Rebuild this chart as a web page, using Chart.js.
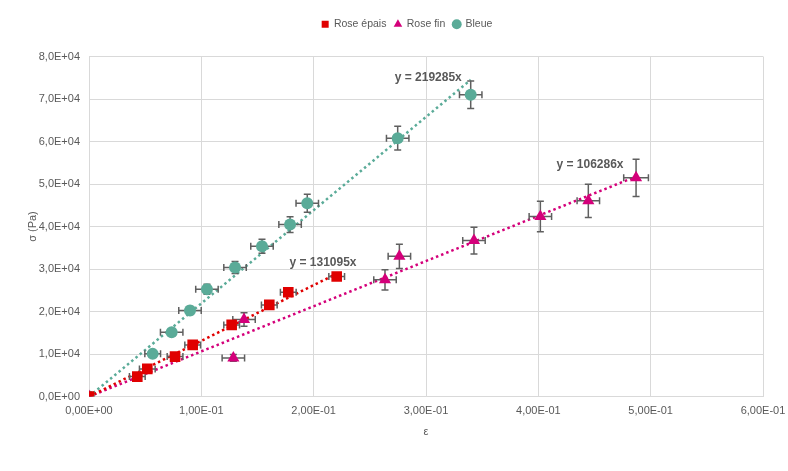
<!DOCTYPE html>
<html>
<head>
<meta charset="utf-8">
<script src="https://cdn.jsdelivr.net/npm/chart.js@4"></script>
<style>
  html, body { margin: 0; padding: 0; background: #fff; }
  #wrap { width: 788px; height: 471px; }
</style>
</head>
<body>
<div id="wrap"><canvas id="chart" width="788" height="471"></canvas></div>
<script>
'use strict';

/* ── DATA ── */
const epaisX = [0, 0.043, 0.0519, 0.0766, 0.0923, 0.127, 0.1605, 0.1774, 0.2205];
const epaisY = [0, 4710, 6510, 9410, 12160, 16870, 21570, 24540, 28240];
const epaisXErr = [0, 0.007, 0.007, 0.007, 0.007, 0.007, 0.007, 0.007, 0.007];
const epaisYErr = [0, 150, 200, 300, 380, 520, 670, 760, 880];

const finX = [0, 0.1285, 0.138, 0.2635, 0.2763, 0.3427, 0.4018, 0.4445, 0.487];
const finY = [0, 9100, 18120, 27460, 33010, 36700, 42350, 46040, 51450];
const finXErr = [0, 0.01, 0.01, 0.01, 0.01, 0.01, 0.01, 0.01, 0.011];
const finYErr = [0, 800, 1600, 2400, 2850, 3150, 3600, 3900, 4400];

const bleueX = [0, 0.0567, 0.0736, 0.0899, 0.105, 0.130, 0.154, 0.179, 0.1943, 0.2748, 0.3398];
const bleueY = [0, 10050, 15130, 20240, 25250, 30350, 35370, 40470, 45480, 60780, 70990];
const bleueXErr = [0, 0.007, 0.01, 0.01, 0.01, 0.01, 0.01, 0.01, 0.01, 0.01, 0.01];
const bleueYErr = [0, 450, 700, 950, 1150, 1400, 1650, 1850, 2100, 2800, 3250];

const seriesNames = ['Rose épais', 'Rose fin', 'Bleue'];
const slopes = [131095, 106286, 219285];

const xTicks = [0, 0.1, 0.2, 0.3, 0.4, 0.5, 0.6];
const yTicks = [0, 10000, 20000, 30000, 40000, 50000, 60000, 70000, 80000];

/* ── STYLE ── */
const RED = '#e00000';
const PINK = '#d4007a';
const GREEN = '#5aab98';
const TEXT = '#595959';
const GRID = '#d9d9d9';
const FONT = "'Liberation Sans', Arial, sans-serif";

function pts(xs, ys) {
  return xs.map((x, i) => ({ x: x, y: ys[i] }));
}

// trend line through the origin up to the largest x
function trend(xs, slope) {
  const maxX = Math.max(...xs);
  return [{ x: 0, y: 0 }, { x: maxX, y: slope * maxX }];
}

// 8.0e+4 -> 8,0E+04
function sci(v, digits) {
  const s = v.toExponential(digits);
  const [m, e] = s.split('e');
  const sign = e[0] === '-' ? '-' : '+';
  const n = Math.abs(parseInt(e, 10));
  return m.replace('.', ',') + 'E' + sign + (n < 10 ? '0' + n : n);
}

const errSets = [
  { ds: 0, xErr: epaisXErr, yErr: epaisYErr },
  { ds: 1, xErr: finXErr, yErr: finYErr },
  { ds: 2, xErr: bleueXErr, yErr: bleueYErr }
];

/* ── ERROR BARS plugin ── */
const errorBars = {
  id: 'errorBars',
  beforeDatasetDraw(chart, args) {
    const set = errSets.find(s => s.ds === args.index);
    if (!set) return;
    const ctx = chart.ctx;
    const xs = chart.scales.x, ys = chart.scales.y;
    const data = chart.data.datasets[args.index].data;
    const cap = 3.5;
    ctx.save();
    ctx.strokeStyle = '#5f5f5f';
    ctx.lineWidth = 1.5;
    data.forEach((p, i) => {
      const xe = set.xErr[i], ye = set.yErr[i];
      const cx = xs.getPixelForValue(p.x), cy = ys.getPixelForValue(p.y);
      ctx.beginPath();
      if (xe) {
        const l = xs.getPixelForValue(p.x - xe), r = xs.getPixelForValue(p.x + xe);
        ctx.moveTo(l, cy); ctx.lineTo(r, cy);
        ctx.moveTo(l, cy - cap); ctx.lineTo(l, cy + cap);
        ctx.moveTo(r, cy - cap); ctx.lineTo(r, cy + cap);
      }
      if (ye) {
        const t = ys.getPixelForValue(p.y + ye), b = ys.getPixelForValue(p.y - ye);
        ctx.moveTo(cx, t); ctx.lineTo(cx, b);
        ctx.moveTo(cx - cap, t); ctx.lineTo(cx + cap, t);
        ctx.moveTo(cx - cap, b); ctx.lineTo(cx + cap, b);
      }
      ctx.stroke();
    });
    ctx.restore();
  }
};

/* ── EQUATION labels ── */
const eqLabels = [
  { slope: 219285, x: 0.302, y: 75100 },
  { slope: 131095, x: 0.2083, y: 31550 },
  { slope: 106286, x: 0.446, y: 54600 }
];

const equations = {
  id: 'equations',
  afterDatasetsDraw(chart) {
    const ctx = chart.ctx;
    const xs = chart.scales.x, ys = chart.scales.y;
    ctx.save();
    ctx.font = 'bold 12px ' + FONT;
    ctx.fillStyle = TEXT;
    ctx.textAlign = 'center';
    ctx.textBaseline = 'middle';
    eqLabels.forEach(l => {
      ctx.fillText('y = ' + l.slope + 'x', xs.getPixelForValue(l.x), ys.getPixelForValue(l.y));
    });
    ctx.restore();
  }
};

/* ── extra room under the legend ── */
const legendMargin = {
  id: 'legendMargin',
  beforeInit(chart) {
    const fit = chart.legend.fit;
    chart.legend.fit = function () {
      fit.bind(chart.legend)();
      this.height += 17;
    };
  }
};

const trendStyle = (color) => ({
  type: 'line',
  borderColor: color,
  borderWidth: 2.5,
  borderDash: [2.5, 3],
  borderCapStyle: 'butt',
  pointRadius: 0,
  fill: false,
  showLine: true,
  order: 1
});

new Chart(document.getElementById('chart'), {
  type: 'scatter',
  data: {
    datasets: [
      {
        label: seriesNames[0], data: pts(epaisX, epaisY),
        pointStyle: 'rect', pointRadius: 7.5, pointHoverRadius: 7.5,
        backgroundColor: RED, borderColor: RED, borderWidth: 0, order: 0
      },
      {
        label: seriesNames[1], data: pts(finX, finY),
        pointStyle: 'triangle', pointRadius: 7, pointHoverRadius: 7,
        backgroundColor: PINK, borderColor: PINK, borderWidth: 0, order: 0
      },
      {
        label: seriesNames[2], data: pts(bleueX, bleueY),
        pointStyle: 'circle', pointRadius: 6, pointHoverRadius: 6,
        backgroundColor: GREEN, borderColor: GREEN, borderWidth: 0, order: 0
      },
      Object.assign({ label: 'trend0', data: trend(epaisX, slopes[0]) }, trendStyle(RED)),
      Object.assign({ label: 'trend1', data: trend(finX, slopes[1]) }, trendStyle(PINK)),
      Object.assign({ label: 'trend2', data: trend(bleueX, slopes[2]) }, trendStyle(GREEN))
    ]
  },
  options: {
    responsive: false,
    animation: false,
    layout: { padding: { left: 26, right: 0, top: 11, bottom: 32 } },
    plugins: {
      tooltip: { enabled: false },
      legend: {
        position: 'top',
        labels: {
          usePointStyle: true,
          boxWidth: 7,
          boxHeight: 7,
          padding: 8,
          color: TEXT,
          font: { family: FONT, size: 10.5 },
          filter: item => item.datasetIndex < 3,
          sort: (a, b) => a.datasetIndex - b.datasetIndex
        }
      }
    },
    scales: {
      x: {
        type: 'linear',
        min: 0, max: 0.6,
        afterBuildTicks: axis => { axis.ticks = xTicks.map(v => ({ value: v })); },
        afterFit: axis => { axis.paddingRight = 25; },
        ticks: {
          color: TEXT, font: { family: FONT, size: 11 },
          callback: v => sci(v, 2), maxRotation: 0, padding: 8
        },
        grid: { color: GRID, lineWidth: 1, drawTicks: false },
        border: { color: GRID },
        title: { display: true, text: 'ε', color: TEXT, font: { family: FONT, size: 11 }, padding: { top: 0, bottom: 0 } }
      },
      y: {
        type: 'linear',
        min: 0, max: 80000,
        afterBuildTicks: axis => { axis.ticks = yTicks.map(v => ({ value: v })); },
        afterFit: axis => { axis.width = 63; },
        ticks: {
          color: TEXT, font: { family: FONT, size: 11 },
          callback: v => sci(v, 1), padding: 9
        },
        grid: { color: GRID, lineWidth: 1, drawTicks: false },
        border: { color: GRID },
        title: { display: true, text: 'σ (Pa)', color: TEXT, font: { family: FONT, size: 11 }, padding: { top: 0, bottom: 0 } }
      }
    }
  },
  plugins: [errorBars, equations, legendMargin]
});
</script>
</body>
</html>
